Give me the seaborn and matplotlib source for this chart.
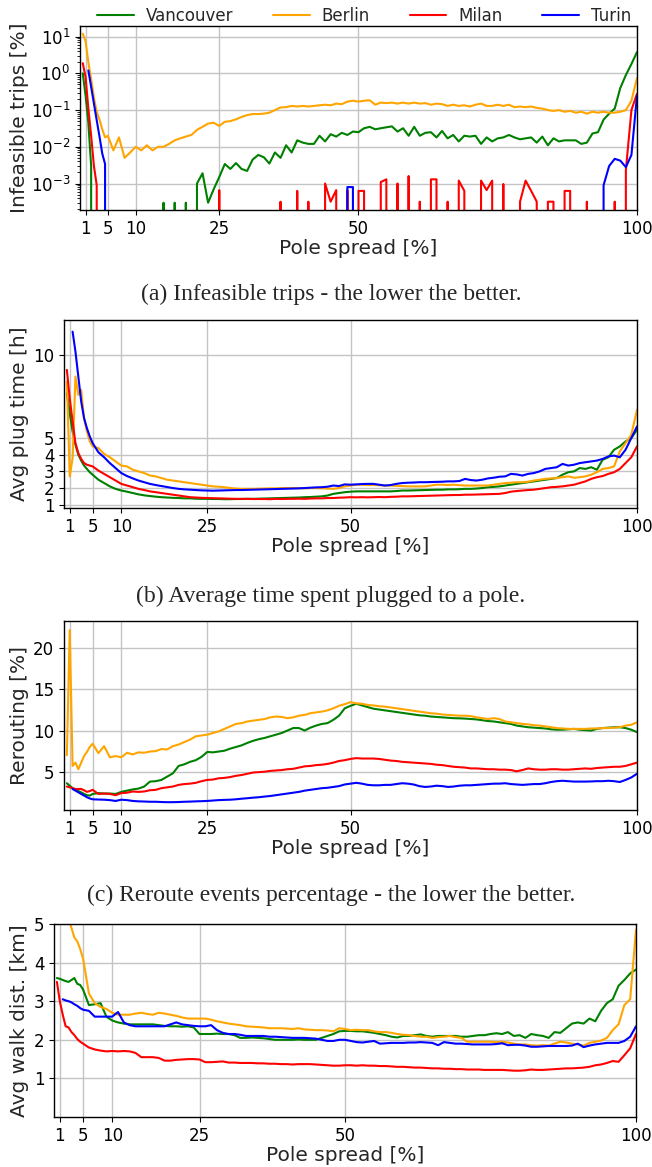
import numpy as np
import pandas as pd
import matplotlib
matplotlib.use("Agg")
import matplotlib.pyplot as plt
from matplotlib.lines import Line2D
import seaborn as sns

CITIES = ["Vancouver", "Berlin", "Milan", "Turin"]
COLORS = ["green", "orange", "red", "blue"]
X_EARLY = [0.5, 1.0, 1.5, 2.0, 2.5, 3.0, 3.5, 4.0, 4.5, 5.0]
X_MAIN = list(range(6, 101))
X_TICKS = [1, 5, 10, 25, 50, 100]
nan = float("nan")

# ---------------- (a) infeasible trips [%] ----------------
INF_VAN = [1.0, 0.25, 0.045, 0.003, 0, 0, 0, 0, 0, 0,
           0, 0, 0, 0, 0, 0, 0, 0, 0, 3e-4,
           0, 3e-4, 0, 3e-4, 0, 1e-3, 1.9e-3, 3e-4, 7e-4, 1.5e-3,
           3.4e-3, 2.5e-3, 3.6e-3, 2.5e-3, 2.2e-3, 4.5e-3, 6e-3, 5.2e-3, 3.5e-3, 7e-3,
           5e-3, 0.011, 0.007, 0.015, 0.013, 0.012, 0.012, 0.02, 0.014, 0.022,
           0.019, 0.024, 0.021, 0.026, 0.025, 0.032, 0.035, 0.03, 0.032, 0.034,
           0.036, 0.026, 0.032, 0.02, 0.035, 0.02, 0.024, 0.025, 0.018, 0.027,
           0.017, 0.021, 0.014, 0.02, 0.019, 0.02, 0.012, 0.018, 0.014, 0.017,
           0.018, 0.021, 0.018, 0.016, 0.017, 0.018, 0.013, 0.019, 0.011, 0.017,
           0.014, 0.015, 0.015, 0.015, 0.012, 0.013, 0.023, 0.025, 0.055, 0.08,
           0.11, 0.4, 0.9, 1.8, 3.8]
INF_BER = [12, 7.5, 2.0, 0.7, 0.22, 0.09, 0.055, 0.03, 0.018, 0.02,
           0.008, 0.018, 0.005, 0.007, 0.01, 0.008, 0.011, 0.008, 0.01, 0.01,
           0.012, 0.015, 0.017, 0.019, 0.021, 0.029, 0.035, 0.043, 0.045, 0.037,
           0.048, 0.05, 0.056, 0.065, 0.073, 0.078, 0.078, 0.08, 0.085, 0.1,
           0.118, 0.12, 0.13, 0.125, 0.13, 0.125, 0.13, 0.135, 0.14, 0.135,
           0.15, 0.145, 0.17, 0.18, 0.17, 0.18, 0.185, 0.14, 0.16, 0.155,
           0.16, 0.15, 0.16, 0.15, 0.16, 0.15, 0.155, 0.14, 0.15, 0.145,
           0.13, 0.14, 0.13, 0.135, 0.125, 0.14, 0.15, 0.13, 0.13, 0.14,
           0.13, 0.14, 0.12, 0.125, 0.12, 0.125, 0.115, 0.11, 0.1, 0.095,
           0.1, 0.09, 0.095, 0.085, 0.09, 0.08, 0.09, 0.085, 0.09, 0.085,
           0.085, 0.09, 0.1, 0.18, 0.75]
INF_MIL = [1.9, 0.8, 0.11, 0.02, 0.003, 0.0009, 0, 0, 0, 0,
           0, 0, 0, 0, 0, 0, 0, 0, 0, 0,
           0, 0, 0, 0, 0, 0, 0, 0, 0, 6.6e-4,
           0, 0, 0, 0, 0, 0, 0, 0, 0, 0,
           3.2e-4, 0, 0, 6.3e-4, 0, 3.2e-4, 0, 0, 1e-3, 3.2e-4,
           6.6e-4, 0, 6.6e-4, 0, 6.3e-4, 6.3e-4, 0, 0, 1.1e-3, 1.3e-3,
           0, 1e-3, 0, 1.6e-3, 0, 3.2e-4, 0, 1.3e-3, 1.3e-3, 0,
           3.2e-4, 0, 1.2e-3, 6.3e-4, 0, 0, 1.2e-3, 6.6e-4, 1.2e-3, 0,
           9.7e-4, 0, 0, 3.2e-4, 1.2e-3, 6.3e-4, 3.2e-4, 0, 3.2e-4, 3.2e-4,
           0, 6.3e-4, 6.3e-4, 0, 0, 3.2e-4, 0, 0, 0, 0,
           3.2e-4, 0, 2.3e-3, 0.1, 0.28]
INF_TUR = [nan, nan, 1.2, 0.43, 0.15, 0.053, 0.019, 0.0065, 0.0034, 0,
           0, 0, 0, 0, 0, 0, 0, 0, 0, 0,
           0, 0, 0, 0, 0, 0, 0, 0, 0, 0,
           0, 0, 0, 0, 0, 0, 0, 0, 0, 0,
           0, 0, 0, 0, 0, 0, 0, 0, 0, 0,
           0, 0, 8e-4, 8e-4, 0, 0, 0, 0, 0, 0,
           0, 0, 0, 0, 0, 0, 0, 0, 0, 0,
           0, 0, 0, 0, 0, 0, 0, 0, 0, 0,
           0, 0, 0, 0, 0, 0, 0, 0, 0, 0,
           0, 0, 0, 0, 0, 0, 0, 0, 9e-4, 3e-3,
           4.7e-3, 4.2e-3, 2.8e-3, 6e-3, 0.25]

# ---------------- (b) avg plug time [h] ----------------
PLUG_VAN = [7.7, 6.5, 5.4, 4.6, 4.0, 3.65, 3.35, 3.15, 2.95, 2.8,
            2.5, 2.3, 2.1, 1.95, 1.85, 1.78, 1.7, 1.62, 1.56, 1.52,
            1.48, 1.45, 1.43, 1.41, 1.4, 1.38, 1.38, 1.36, 1.35, 1.35,
            1.34, 1.34, 1.33, 1.33, 1.34, 1.34, 1.35, 1.35, 1.36, 1.37,
            1.38, 1.39, 1.4, 1.41, 1.42, 1.43, 1.45, 1.46, 1.48, 1.5,
            1.55, 1.65, 1.7, 1.75, 1.78, 1.8, 1.8, 1.8, 1.8, 1.8,
            1.8, 1.8, 1.82, 1.85, 1.85, 1.86, 1.87, 1.88, 1.89, 1.9,
            1.9, 1.92, 1.92, 1.93, 1.95, 1.95, 1.97, 2.0, 2.05, 2.07,
            2.1, 2.15, 2.2, 2.25, 2.3, 2.35, 2.4, 2.45, 2.5, 2.55,
            2.6, 2.8, 2.95, 3.0, 3.2, 3.15, 3.25, 3.1, 3.7, 3.85,
            4.3, 4.5, 4.8, 5.0, 5.5]
PLUG_BER = [8.4, 2.7, 3.8, 8.7, 7.6, 7.9, 6.2, 5.4, 4.8, 4.5,
            4.4, 4.05, 3.85, 3.6, 3.35, 3.3, 3.1, 3.0, 2.9, 2.75,
            2.7, 2.6, 2.5, 2.45, 2.4, 2.35, 2.3, 2.25, 2.2, 2.15,
            2.1, 2.08, 2.05, 2.0, 1.97, 1.95, 1.95, 1.95, 1.96, 1.97,
            1.98, 1.98, 2.0, 2.0, 2.0, 2.0, 1.98, 2.0, 2.0, 1.98,
            1.97, 1.95, 2.0, 2.1, 2.15, 2.2, 2.2, 2.18, 2.18, 2.17,
            2.15, 2.15, 2.13, 2.12, 2.1, 2.1, 2.1, 2.1, 2.15, 2.2,
            2.2, 2.18, 2.2, 2.17, 2.15, 2.15, 2.15, 2.15, 2.15, 2.2,
            2.25, 2.3, 2.32, 2.35, 2.35, 2.38, 2.45, 2.5, 2.55, 2.58,
            2.6, 2.65, 2.7, 2.62, 2.65, 2.7, 2.8, 2.95, 3.15, 3.2,
            3.3, 4.2, 4.7, 5.2, 6.7]
PLUG_MIL = [9.1, 7.4, 6.0, 4.7, 4.1, 3.75, 3.5, 3.4, 3.35, 3.3,
            3.05, 2.85, 2.65, 2.45, 2.25, 2.15, 2.05, 1.95, 1.88, 1.8,
            1.75, 1.7, 1.65, 1.6, 1.55, 1.5, 1.45, 1.43, 1.41, 1.4,
            1.39, 1.38, 1.37, 1.36, 1.35, 1.35, 1.35, 1.34, 1.34, 1.34,
            1.33, 1.35, 1.34, 1.35, 1.35, 1.36, 1.35, 1.37, 1.38, 1.38,
            1.4, 1.4, 1.42, 1.43, 1.45, 1.44, 1.45, 1.44, 1.45, 1.46,
            1.45, 1.47, 1.48, 1.5, 1.5, 1.51, 1.52, 1.53, 1.54, 1.55,
            1.56, 1.57, 1.58, 1.58, 1.6, 1.6, 1.61, 1.62, 1.63, 1.64,
            1.65, 1.7, 1.78, 1.82, 1.85, 1.88, 1.9, 1.95, 2.0, 2.05,
            2.07, 2.1, 2.15, 2.2, 2.3, 2.4, 2.55, 2.65, 2.72, 2.85,
            2.95, 3.15, 3.5, 3.85, 4.5]
PLUG_TUR = [nan, nan, 11.4, 10.2, 8.7, 7.2, 6.2, 5.6, 5.1, 4.7,
            4.15, 3.85, 3.5, 3.2, 2.9, 2.72, 2.58, 2.45, 2.35, 2.25,
            2.18, 2.12, 2.06, 2.0, 1.95, 1.92, 1.9, 1.88, 1.86, 1.85,
            1.84, 1.85, 1.86, 1.87, 1.88, 1.88, 1.89, 1.9, 1.91, 1.92,
            1.93, 1.94, 1.95, 1.96, 1.97, 1.98, 2.0, 2.02, 2.04, 2.05,
            2.08, 2.15, 2.12, 2.22, 2.2, 2.22, 2.24, 2.25, 2.25, 2.2,
            2.15, 2.18, 2.25, 2.3, 2.32, 2.33, 2.35, 2.35, 2.36, 2.37,
            2.38, 2.4, 2.4, 2.42, 2.55, 2.48, 2.45, 2.5, 2.58, 2.62,
            2.68, 2.7, 2.85, 2.82, 2.75, 2.85, 2.9, 3.0, 3.15, 3.2,
            3.25, 3.45, 3.35, 3.4, 3.5, 3.55, 3.6, 3.65, 3.75, 3.9,
            3.95, 3.85, 4.3, 5.0, 5.7]

# ---------------- (c) rerouting [%] ----------------
REROUTE_VAN = [3.6, 3.3, 3.0, 2.8, 2.65, 2.5, 2.3, 2.15, 2.1, 2.3,
               2.4, 2.35, 2.35, 2.3, 2.55, 2.7, 2.85, 2.95, 3.2, 3.8,
               3.85, 4.0, 4.4, 4.8, 5.7, 5.9, 6.2, 6.4, 6.8, 7.4,
               7.35, 7.45, 7.55, 7.8, 8.0, 8.2, 8.5, 8.75, 8.95, 9.1,
               9.3, 9.5, 9.7, 10.0, 10.3, 10.3, 10.0, 10.35, 10.6, 10.8,
               10.9, 11.3, 11.8, 12.7, 13.0, 13.25, 13.05, 12.85, 12.65, 12.55,
               12.45, 12.35, 12.25, 12.15, 12.05, 11.95, 11.85, 11.8, 11.7, 11.65,
               11.6, 11.55, 11.5, 11.48, 11.45, 11.4, 11.35, 11.25, 11.15, 11.1,
               11.0, 10.9, 10.8, 10.6, 10.5, 10.4, 10.35, 10.3, 10.25, 10.15,
               10.1, 10.1, 10.15, 10.2, 10.1, 10.05, 10.0, 10.2, 10.3, 10.35,
               10.4, 10.4, 10.3, 10.1, 9.8]
REROUTE_BER = [7.0, 22.2, 5.7, 6.1, 5.3, 6.1, 6.9, 7.4, 8.0, 8.4,
               7.25, 8.1, 6.75, 6.9, 6.75, 7.3, 7.1, 7.35, 7.3, 7.45,
               7.5, 7.75, 7.7, 8.1, 8.3, 8.6, 8.9, 9.3, 9.4, 9.5,
               9.7, 9.9, 10.2, 10.5, 10.8, 10.9, 11.1, 11.2, 11.3, 11.4,
               11.6, 11.7, 11.65, 11.5, 11.6, 11.8, 11.9, 12.1, 12.2, 12.3,
               12.45, 12.7, 13.0, 13.2, 13.45, 13.3, 13.25, 13.1, 13.05, 12.95,
               12.9, 12.8, 12.7, 12.6, 12.5, 12.4, 12.3, 12.2, 12.1, 12.05,
               11.95, 11.9, 11.85, 11.8, 11.8, 11.75, 11.6, 11.5, 11.4, 11.5,
               11.4, 11.1, 11.0, 10.9, 10.8, 10.75, 10.65, 10.6, 10.5, 10.4,
               10.3, 10.25, 10.2, 10.2, 10.2, 10.2, 10.25, 10.25, 10.3, 10.3,
               10.35, 10.4, 10.6, 10.7, 11.0]
REROUTE_MIL = [3.2, 3.1, 3.0, 2.9, 2.9, 2.9, 2.75, 2.55, 2.65, 2.8,
               2.3, 2.35, 2.3, 2.15, 2.4, 2.45, 2.6, 2.55, 2.6, 2.75,
               2.8, 3.0, 3.1, 3.2, 3.4, 3.5, 3.55, 3.65, 3.85, 4.0,
               4.05, 4.2, 4.25, 4.35, 4.5, 4.6, 4.75, 4.9, 4.95, 5.0,
               5.1, 5.15, 5.2, 5.3, 5.35, 5.5, 5.65, 5.7, 5.8, 5.85,
               5.95, 6.1, 6.3, 6.4, 6.55, 6.65, 6.6, 6.6, 6.6, 6.55,
               6.45, 6.35, 6.3, 6.2, 6.15, 6.1, 6.05, 6.0, 5.95, 5.85,
               5.8, 5.7, 5.6, 5.55, 5.5, 5.4, 5.4, 5.35, 5.3, 5.3,
               5.25, 5.25, 5.2, 5.05, 5.2, 5.4, 5.3, 5.25, 5.25, 5.3,
               5.3, 5.25, 5.25, 5.3, 5.35, 5.4, 5.35, 5.45, 5.5, 5.55,
               5.6, 5.6, 5.7, 5.9, 6.1]
REROUTE_TUR = [nan, nan, 2.9, 2.7, 2.5, 2.3, 2.1, 1.9, 1.75, 1.65,
               1.62, 1.6, 1.55, 1.45, 1.6, 1.55, 1.45, 1.4, 1.38, 1.35,
               1.35, 1.32, 1.3, 1.3, 1.32, 1.35, 1.37, 1.4, 1.42, 1.45,
               1.5, 1.55, 1.58, 1.6, 1.65, 1.72, 1.78, 1.85, 1.9, 1.98,
               2.05, 2.15, 2.25, 2.35, 2.45, 2.55, 2.7, 2.8, 2.9, 3.0,
               3.05, 3.15, 3.25, 3.45, 3.55, 3.65, 3.55, 3.4, 3.35, 3.35,
               3.4, 3.4, 3.5, 3.6, 3.55, 3.45, 3.25, 3.15, 3.2, 3.3,
               3.25, 3.15, 3.2, 3.3, 3.35, 3.35, 3.4, 3.45, 3.5, 3.55,
               3.55, 3.6, 3.5, 3.45, 3.4, 3.45, 3.5, 3.5, 3.6, 3.75,
               3.85, 3.9, 3.85, 3.8, 3.8, 3.8, 3.82, 3.85, 3.85, 3.9,
               3.85, 3.75, 4.0, 4.3, 4.75]

# ---------------- (d) avg walk distance [km] ----------------
WALK_VAN = [3.6, 3.58, 3.55, 3.52, 3.5, 3.55, 3.6, 3.45, 3.42, 3.3,
            2.9, 2.92, 2.95, 2.6, 2.5, 2.45, 2.42, 2.4, 2.4, 2.4,
            2.4, 2.4, 2.38, 2.36, 2.35, 2.35, 2.34, 2.35, 2.32, 2.15,
            2.15, 2.15, 2.16, 2.15, 2.15, 2.12, 2.05, 2.05, 2.06, 2.05,
            2.04, 2.02, 2.0, 2.0, 2.0, 2.0, 2.01, 2.0, 2.0, 2.0,
            2.05, 2.1, 2.15, 2.22, 2.23, 2.23, 2.22, 2.22, 2.2, 2.18,
            2.15, 2.12, 2.08, 2.06, 2.1, 2.1, 2.12, 2.14, 2.1, 2.08,
            2.1, 2.1, 2.1, 2.1, 2.08, 2.08, 2.1, 2.12, 2.12, 2.15,
            2.17, 2.15, 2.2, 2.1, 2.12, 2.05, 2.15, 2.12, 2.1, 2.05,
            2.2, 2.18, 2.3, 2.42, 2.45, 2.42, 2.55, 2.48, 2.75, 2.95,
            3.05, 3.4, 3.55, 3.72, 3.82]
WALK_BER = [7.0, 6.5, 6.0, 5.6, 5.15, 4.9, 4.65, 4.55, 4.35, 4.1,
            3.2, 2.95, 2.85, 2.8, 2.7, 2.65, 2.65, 2.65, 2.68, 2.7,
            2.67, 2.65, 2.7, 2.68, 2.65, 2.62, 2.58, 2.55, 2.55, 2.55,
            2.55, 2.52, 2.48, 2.45, 2.42, 2.4, 2.38, 2.35, 2.34, 2.33,
            2.32, 2.3, 2.3, 2.3, 2.29, 2.28, 2.3, 2.27, 2.26, 2.25,
            2.25, 2.24, 2.22, 2.3, 2.28, 2.25, 2.26, 2.25, 2.25, 2.22,
            2.2, 2.2, 2.18, 2.15, 2.13, 2.12, 2.1, 2.08, 2.08, 2.05,
            2.07, 2.08, 2.1, 2.07, 2.05, 1.95, 1.95, 1.95, 1.95, 1.95,
            1.94, 1.95, 1.93, 1.9, 1.88, 1.88, 1.86, 1.85, 1.86, 1.85,
            1.9, 1.95, 1.93, 1.9, 1.88, 1.85, 1.92, 1.95, 1.98, 2.05,
            2.25, 2.4, 2.9, 3.05, 4.85]
WALK_MIL = [3.5, 3.0, 2.65, 2.35, 2.32, 2.2, 2.12, 2.02, 1.95, 1.9,
            1.8, 1.75, 1.72, 1.7, 1.71, 1.7, 1.71, 1.7, 1.66, 1.55,
            1.55, 1.55, 1.53, 1.46, 1.46, 1.48, 1.49, 1.5, 1.5, 1.49,
            1.42, 1.42, 1.43, 1.44, 1.41, 1.41, 1.4, 1.4, 1.4, 1.39,
            1.39, 1.38, 1.38, 1.37, 1.37, 1.36, 1.37, 1.37, 1.37, 1.36,
            1.35, 1.34, 1.33, 1.33, 1.34, 1.34, 1.33, 1.34, 1.33, 1.33,
            1.32, 1.32, 1.31, 1.3, 1.3, 1.29, 1.28, 1.28, 1.27, 1.26,
            1.26, 1.25, 1.25, 1.24, 1.24, 1.23, 1.23, 1.23, 1.22, 1.22,
            1.22, 1.22, 1.21, 1.2, 1.2, 1.21, 1.23, 1.22, 1.22, 1.23,
            1.24, 1.25, 1.26, 1.26, 1.27, 1.28, 1.3, 1.34, 1.36, 1.4,
            1.45, 1.43, 1.6, 1.78, 2.15]
WALK_TUR = [nan, nan, 3.05, 3.02, 3.0, 2.97, 2.92, 2.88, 2.82, 2.78,
            2.75, 2.6, 2.6, 2.6, 2.6, 2.72, 2.45, 2.38, 2.35, 2.35,
            2.35, 2.35, 2.35, 2.35, 2.4, 2.45, 2.4, 2.38, 2.36, 2.35,
            2.35, 2.38, 2.25, 2.18, 2.15, 2.15, 2.13, 2.1, 2.1, 2.1,
            2.1, 2.08, 2.08, 2.07, 2.06, 2.05, 2.05, 2.05, 2.04, 2.03,
            2.0, 1.97, 1.97, 2.0, 2.0, 1.97, 1.94, 1.93, 1.95, 1.97,
            1.9, 1.91, 1.92, 1.92, 1.92, 1.93, 1.93, 1.94, 1.93, 1.92,
            1.86, 1.94, 1.92, 1.9, 1.9, 1.89, 1.88, 1.88, 1.88, 1.88,
            1.89, 1.91, 1.86, 1.87, 1.87, 1.85, 1.82, 1.82, 1.83, 1.84,
            1.84, 1.84, 1.84, 1.85, 1.9, 1.81, 1.85, 1.88, 1.9, 1.92,
            1.92, 1.92, 1.97, 2.08, 2.35]

CAPTIONS = ["(a) Infeasible trips - the lower the better.",
            "(b) Average time spent plugged to a pole.",
            "(c) Reroute events percentage - the lower the better."]

# ---------------- styling ----------------
sns.set_style("ticks")
plt.rcParams["font.family"] = ["DejaVu Sans"]
plt.rcParams.update({
    "axes.edgecolor": "black",
    "axes.linewidth": 1.0,
    "xtick.color": "black", "ytick.color": "black",
    "xtick.major.size": 3.5, "ytick.major.size": 3.5,
    "ytick.minor.size": 2.0,
    "xtick.major.width": 0.8, "ytick.major.width": 0.8,
    "xtick.labelsize": 12, "ytick.labelsize": 12,
    "axes.labelsize": 14.5,
})

W, H = 652, 1167
fig = plt.figure(figsize=(W / 100, H / 100), dpi=100)
X_ALL = X_EARLY + X_MAIN
PALETTE = dict(zip(CITIES, COLORS))


def add_ax(left, top, right, bottom):
    return fig.add_axes([left / W, 1 - bottom / H, (right - left) / W, (bottom - top) / H])


def draw(ax, series, ylabel, top_px, bottom_px, left_px):
    frames = []
    for city, vals in zip(CITIES, series):
        frames.append(pd.DataFrame({"x": X_ALL, "v": vals, "city": city}))
    df = pd.concat(frames, ignore_index=True)
    sns.lineplot(data=df, x="x", y="v", hue="city", hue_order=CITIES,
                 palette=PALETTE, estimator=None, sort=False, legend=False,
                 linewidth=1.5, ax=ax)
    ax.set_xlim(0, 100)
    ax.set_xticks(X_TICKS)
    ax.set_xticklabels([str(t) for t in X_TICKS])
    ax.grid(True, which="major", color="#c4c4c4", linewidth=1.0)
    ax.set_axisbelow(True)
    for s in ax.spines.values():
        s.set_visible(True)
        s.set_color("black")
    hpx = bottom_px - top_px
    wpx = 636 - left_px
    ax.set_xlabel("Pole spread [%]")
    ax.xaxis.set_label_coords(0.5, -29 / hpx)
    ax.set_ylabel(ylabel)
    ax.yaxis.set_label_coords((29 - left_px) / wpx, 0.5)


# (a)
ax_a = add_ax(80, 26, 637, 210)
draw(ax_a, [INF_VAN, INF_BER, INF_MIL, INF_TUR], "Infeasible trips [%]", 26, 210, 80)
ax_a.set_yscale("log")
ax_a.set_ylim(1.9e-4, 19.5)
ax_a.grid(True, which="major", axis="both", color="#c4c4c4", linewidth=1.0)

# (b)
ax_b = add_ax(64, 320, 637, 508)
draw(ax_b, [PLUG_VAN, PLUG_BER, PLUG_MIL, PLUG_TUR], "Avg plug time [h]", 320, 508, 64)
ax_b.set_ylim(0.8, 12.1)
ax_b.set_yticks([1, 2, 3, 4, 5, 10])

# (c)
ax_c = add_ax(64, 621, 637, 810)
draw(ax_c, [REROUTE_VAN, REROUTE_BER, REROUTE_MIL, REROUTE_TUR], "Rerouting [%]", 621, 810, 64)
ax_c.set_ylim(0.35, 23.3)
ax_c.set_yticks([5, 10, 15, 20])

# (d)
ax_d = add_ax(54, 924, 636, 1117)
draw(ax_d, [WALK_VAN, WALK_BER, WALK_MIL, WALK_TUR], "Avg walk dist. [km]", 924, 1117, 54)
ax_d.set_ylim(0, 5)
ax_d.set_yticks([1, 2, 3, 4, 5])

# legend
handles = [Line2D([0], [0], color=c, lw=1.5) for c in COLORS]
fig.legend(handles, CITIES, loc="center", bbox_to_anchor=(364 / W, 1 - 16 / H),
           ncol=4, frameon=False, fontsize=12, handlelength=2.2,
           columnspacing=2.4, handletextpad=0.7)

# captions
for cap, ypx in zip(CAPTIONS, [294, 596, 895]):
    fig.text(331 / W, 1 - ypx / H, cap, ha="center", va="center",
             family=["Liberation Serif", "DejaVu Serif"], fontsize=17)

fig.savefig("out.png", dpi=100)
